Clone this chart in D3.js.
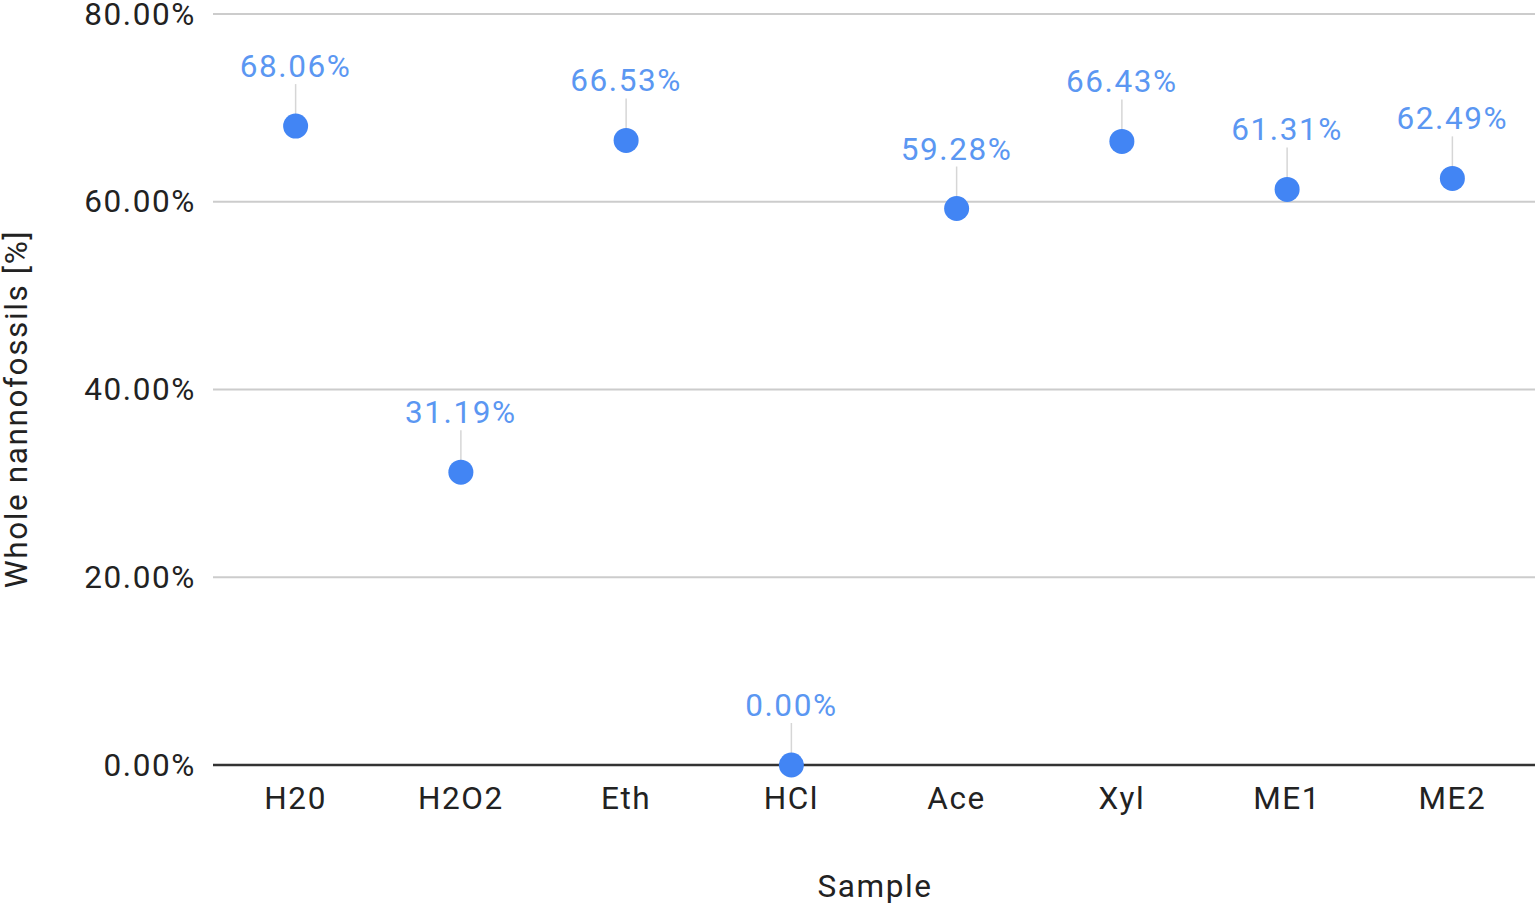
<!DOCTYPE html>
<html><head><meta charset="utf-8">
<script src="https://cdn.jsdelivr.net/npm/d3@7"></script>
<style>html,body{margin:0;padding:0;background:#fff;}svg{display:block;font-family:Roboto,Arial,sans-serif;}</style>
</head><body>
<svg id="chart" width="1538" height="906"></svg>
<script>
const categories = ["H20", "H2O2", "Eth", "HCl", "Ace", "Xyl", "ME1", "ME2"];
const values = [68.06, 31.19, 66.53, 0.00, 59.28, 66.43, 61.31, 62.49];
const yTicks = [0, 20, 40, 60, 80];
const xTitle = "Sample";
const yTitle = "Whole nannofossils [%]";

const svg = d3.select("#chart");
const m = {left: 213, right: 1535, top: 14, bottom: 765};
const x = d3.scaleBand().domain(categories).range([m.left, m.right]);
const y = d3.scaleLinear().domain([0, 80]).range([m.bottom, m.top]);
const fmt = v => v.toFixed(2) + "%";
const FS = 31.5, LS = 1.6;

// gridlines
svg.append("g").selectAll("line").data(yTicks.filter(t => t !== 0)).join("line")
  .attr("x1", m.left).attr("x2", m.right)
  .attr("y1", d => y(d)).attr("y2", d => y(d))
  .attr("stroke", "#cccccc").attr("stroke-width", 2);

// y axis labels
const yAxis = d3.axisLeft(y).tickValues(yTicks).tickFormat(fmt).tickSize(0).tickPadding(17);
const gy = svg.append("g").attr("transform", `translate(${m.left},0)`).call(yAxis);
gy.select(".domain").remove();
gy.selectAll("text").attr("font-size", FS).attr("letter-spacing", LS).attr("fill", "#222").attr("font-family", "Roboto,Arial,sans-serif");

// x axis
const xAxis = d3.axisBottom(x).tickSize(0).tickPadding(22);
const gx = svg.append("g").attr("transform", `translate(0,${m.bottom})`).call(xAxis);
gx.select(".domain").remove();
gx.selectAll("text").attr("font-size", FS).attr("letter-spacing", LS).attr("fill", "#222").attr("font-family", "Roboto,Arial,sans-serif");

// baseline
svg.append("line").attr("x1", m.left).attr("x2", m.right)
  .attr("y1", y(0)).attr("y2", y(0)).attr("stroke", "#333").attr("stroke-width", 2.5);

const cx = d => x(d) + x.bandwidth() / 2;
const data = categories.map((c, i) => ({c, v: values[i]}));

// leader lines
svg.append("g").selectAll("line").data(data).join("line")
  .attr("x1", d => cx(d.c)).attr("x2", d => cx(d.c))
  .attr("y1", d => y(d.v) - 42).attr("y2", d => y(d.v) - 10)
  .attr("stroke", "#d6d6d6").attr("stroke-width", 1.5);

// points
svg.append("g").selectAll("circle").data(data).join("circle")
  .attr("cx", d => cx(d.c)).attr("cy", d => y(d.v)).attr("r", 12.5)
  .attr("fill", "#4285f4");

// labels
svg.append("g").selectAll("text").data(data).join("text")
  .attr("x", d => cx(d.c)).attr("y", d => y(d.v) - 49)
  .attr("text-anchor", "middle").attr("font-size", FS).attr("letter-spacing", LS)
  .attr("fill", "#5b97f2").text(d => fmt(d.v));

// titles
svg.append("text").attr("x", 875).attr("y", 897).attr("text-anchor", "middle")
  .attr("font-size", FS).attr("letter-spacing", LS).attr("fill", "#222").text(xTitle);
svg.append("text").attr("transform", "translate(27,409) rotate(-90)")
  .attr("text-anchor", "middle").attr("font-size", FS).attr("letter-spacing", LS).attr("fill", "#222").text(yTitle);
</script>
</body></html>
